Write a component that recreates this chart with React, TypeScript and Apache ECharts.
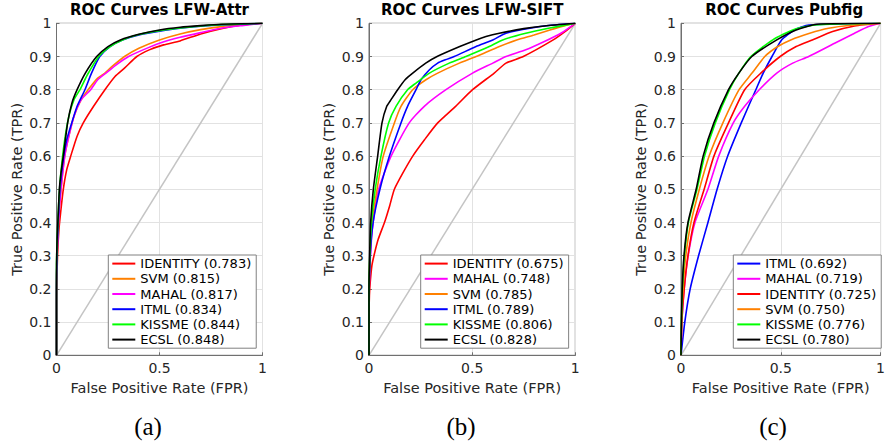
import React, { useEffect, useRef } from "react";
import * as echarts from "echarts";

const FONT = "DejaVu Sans";

const panelTitles = ["ROC Curves LFW-Attr", "ROC Curves LFW-SIFT", "ROC Curves Pubfig"];
const subCaptions = ["(a)", "(b)", "(c)"];
const xTickStep = 0.5;
const yTickStep = 0.1;

const methodColors: Record<string, string> = {
  IDENTITY: "#ff0000",
  SVM: "#ff8000",
  MAHAL: "#ff00ff",
  ITML: "#0000ff",
  KISSME: "#00ff00",
  ECSL: "#000000",
};

// ---------- Panel (a): LFW-Attr ----------
const attrMethods = ["IDENTITY", "SVM", "MAHAL", "ITML", "KISSME", "ECSL"];
const attrAuc = ["0.783", "0.815", "0.817", "0.834", "0.844", "0.848"];
const attrIdentity = [[0,0],[0,0.15],[0.005,0.3],[0.012,0.38],[0.02,0.43],[0.033,0.5],[0.05,0.56],[0.069,0.6],[0.1,0.66],[0.13,0.7],[0.18,0.75],[0.235,0.8],[0.284,0.84],[0.33,0.865],[0.39,0.9],[0.45,0.92],[0.52,0.935],[0.6,0.947],[0.7,0.968],[0.8,0.984],[0.9,0.995],[1,1]];
const attrSvm = [[0,0],[0,0.2],[0.006,0.35],[0.015,0.45],[0.025,0.52],[0.04,0.6],[0.06,0.66],[0.085,0.72],[0.12,0.77],[0.16,0.805],[0.2,0.835],[0.235,0.85],[0.27,0.87],[0.33,0.9],[0.4,0.925],[0.5,0.95],[0.6,0.968],[0.7,0.981],[0.8,0.99],[1,1]];
const attrMahal = [[0,0],[0,0.2],[0.006,0.35],[0.015,0.45],[0.025,0.52],[0.04,0.6],[0.06,0.66],[0.085,0.72],[0.12,0.77],[0.166,0.8],[0.2,0.83],[0.24,0.85],[0.29,0.875],[0.35,0.9],[0.42,0.92],[0.5,0.94],[0.6,0.958],[0.7,0.972],[0.8,0.985],[0.9,0.993],[1,1]];
const attrItml = [[0,0],[0,0.2],[0.005,0.35],[0.012,0.45],[0.02,0.52],[0.035,0.6],[0.05,0.65],[0.074,0.7],[0.1,0.75],[0.138,0.8],[0.17,0.85],[0.21,0.9],[0.26,0.93],[0.32,0.95],[0.4,0.965],[0.5,0.976],[0.6,0.985],[0.7,0.991],[0.8,0.995],[1,1]];
const attrKissme = [[0,0],[0,0.27],[0.004,0.36],[0.01,0.45],[0.017,0.52],[0.026,0.58],[0.04,0.65],[0.06,0.72],[0.085,0.77],[0.114,0.8],[0.15,0.845],[0.205,0.9],[0.26,0.93],[0.32,0.95],[0.4,0.966],[0.5,0.978],[0.6,0.986],[0.7,0.992],[0.8,0.996],[1,1]];
const attrEcsl = [[0,0],[0,0.25],[0.003,0.35],[0.008,0.42],[0.014,0.5],[0.022,0.55],[0.033,0.6],[0.054,0.7],[0.075,0.76],[0.1,0.8],[0.14,0.85],[0.195,0.9],[0.25,0.93],[0.31,0.95],[0.4,0.967],[0.5,0.98],[0.6,0.988],[0.7,0.993],[0.8,0.997],[1,1]];
const attrCurves = [attrIdentity, attrSvm, attrMahal, attrItml, attrKissme, attrEcsl];

// ---------- Panel (b): LFW-SIFT ----------
const siftMethods = ["IDENTITY", "MAHAL", "SVM", "ITML", "KISSME", "ECSL"];
const siftAuc = ["0.675", "0.748", "0.785", "0.789", "0.806", "0.828"];
const siftIdentity = [[0,0],[0,0.12],[0.002,0.18],[0.006,0.22],[0.014,0.27],[0.024,0.3],[0.045,0.35],[0.075,0.4],[0.1,0.45],[0.123,0.5],[0.165,0.55],[0.212,0.6],[0.27,0.65],[0.333,0.7],[0.42,0.75],[0.502,0.8],[0.607,0.85],[0.664,0.88],[0.748,0.9],[0.893,0.95],[0.95,0.975],[1,1]];
const siftMahal = [[0,0],[0,0.15],[0.007,0.3],[0.02,0.4],[0.047,0.5],[0.107,0.6],[0.195,0.7],[0.268,0.75],[0.373,0.8],[0.502,0.85],[0.6,0.88],[0.664,0.9],[0.76,0.92],[0.85,0.945],[0.93,0.97],[1,1]];
const siftSvm = [[0,0],[0,0.15],[0.005,0.3],[0.015,0.4],[0.039,0.5],[0.069,0.6],[0.123,0.7],[0.155,0.75],[0.212,0.8],[0.276,0.83],[0.333,0.85],[0.438,0.88],[0.519,0.9],[0.632,0.93],[0.716,0.95],[0.8,0.965],[0.877,0.98],[0.95,0.993],[1,1]];
const siftItml = [[0,0],[0,0.15],[0.006,0.3],[0.02,0.4],[0.053,0.5],[0.099,0.6],[0.155,0.7],[0.187,0.75],[0.228,0.8],[0.252,0.83],[0.293,0.86],[0.333,0.88],[0.37,0.89],[0.413,0.9],[0.519,0.93],[0.6,0.95],[0.664,0.97],[0.78,0.985],[0.88,0.994],[1,1]];
const siftKissme = [[0,0],[0,0.2],[0.004,0.3],[0.012,0.4],[0.03,0.5],[0.058,0.6],[0.095,0.7],[0.131,0.75],[0.187,0.8],[0.228,0.82],[0.293,0.85],[0.389,0.88],[0.47,0.9],[0.583,0.93],[0.648,0.95],[0.76,0.97],[0.87,0.985],[1,1]];
const siftEcsl = [[0,0],[0,0.2],[0.003,0.3],[0.008,0.4],[0.021,0.5],[0.042,0.6],[0.063,0.7],[0.086,0.75],[0.107,0.77],[0.139,0.8],[0.175,0.83],[0.212,0.85],[0.275,0.88],[0.33,0.9],[0.44,0.93],[0.52,0.95],[0.567,0.96],[0.632,0.97],[0.75,0.984],[0.85,0.992],[1,1]];
const siftCurves = [siftIdentity, siftMahal, siftSvm, siftItml, siftKissme, siftEcsl];

// ---------- Panel (c): Pubfig ----------
const pubMethods = ["ITML", "MAHAL", "IDENTITY", "SVM", "KISSME", "ECSL"];
const pubAuc = ["0.692", "0.719", "0.725", "0.750", "0.776", "0.780"];
const pubItml = [[0,0],[0.019,0.1],[0.046,0.2],[0.088,0.3],[0.135,0.4],[0.181,0.5],[0.234,0.6],[0.302,0.7],[0.375,0.8],[0.412,0.85],[0.456,0.9],[0.504,0.95],[0.569,0.98],[0.64,0.995],[1,1]];
const pubMahal = [[0,0],[0.004,0.1],[0.016,0.2],[0.036,0.3],[0.07,0.4],[0.135,0.5],[0.189,0.6],[0.262,0.7],[0.319,0.75],[0.392,0.8],[0.48,0.85],[0.56,0.88],[0.64,0.9],[0.77,0.94],[0.87,0.97],[0.94,0.99],[1,1]];
const pubIdentity = [[0,0],[0.004,0.1],[0.016,0.2],[0.035,0.3],[0.065,0.4],[0.116,0.5],[0.165,0.6],[0.238,0.7],[0.319,0.8],[0.4,0.85],[0.497,0.9],[0.577,0.93],[0.658,0.95],[0.76,0.975],[0.87,0.992],[1,1]];
const pubSvm = [[0,0],[0.003,0.1],[0.01,0.2],[0.024,0.3],[0.05,0.4],[0.092,0.5],[0.141,0.6],[0.21,0.7],[0.291,0.8],[0.356,0.85],[0.42,0.9],[0.485,0.93],[0.55,0.95],[0.645,0.97],[0.74,0.985],[0.85,0.994],[1,1]];
const pubKissme = [[0,0],[0.002,0.1],[0.007,0.2],[0.017,0.3],[0.037,0.4],[0.08,0.5],[0.118,0.6],[0.172,0.7],[0.243,0.8],[0.29,0.85],[0.35,0.9],[0.46,0.95],[0.56,0.98],[0.67,0.995],[1,1]];
const pubEcsl = [[0,0],[0.002,0.1],[0.006,0.2],[0.015,0.3],[0.035,0.4],[0.076,0.5],[0.111,0.6],[0.165,0.7],[0.238,0.8],[0.29,0.85],[0.355,0.9],[0.48,0.95],[0.577,0.98],[0.68,0.997],[1,1]];
const pubCurves = [pubItml, pubMahal, pubIdentity, pubSvm, pubKissme, pubEcsl];

const chanceLine = [[0, 0], [1, 1]];

const panels = [
  { methods: attrMethods, auc: attrAuc, curves: attrCurves },
  { methods: siftMethods, auc: siftAuc, curves: siftCurves },
  { methods: pubMethods, auc: pubAuc, curves: pubCurves },
];

// layout (pixels)
const gridLefts = [56.5, 369, 681];
const gridWidths = [206, 206.3, 206.3];
const gridTop = 23.3;
const gridHeight = 332;
const legendLefts = [108.3, 420.7, 733.3];
const legendTop = 255;
const subCaptionX = [148, 461, 773];

const fmt = (v: number) => String(Math.round(v * 10) / 10);

export default function App() {
  const ref = useRef<HTMLDivElement>(null);
  useEffect(() => {
    if (!ref.current) return;
    const chart = echarts.init(ref.current, undefined, { renderer: "svg" });

    const axisColor = "#707070";
    const textColor = "#262626";

    const grid = panels.map((_, i) => ({
      left: gridLefts[i],
      top: gridTop,
      width: gridWidths[i],
      height: gridHeight,
      show: true,
      borderColor: axisColor,
      borderWidth: 1,
      backgroundColor: "transparent",
    }));

    const xAxis = panels.map((_, i) => ({
      type: "value",
      gridIndex: i,
      min: 0,
      max: 1,
      interval: xTickStep,
      name: "False Positive Rate (FPR)",
      nameLocation: "middle",
      nameGap: 25,
      nameTextStyle: { fontFamily: FONT, fontSize: 14.5, color: textColor },
      axisLine: { show: true, lineStyle: { color: axisColor, width: 1 } },
      axisTick: { show: true, inside: true, length: 3, lineStyle: { color: axisColor } },
      axisLabel: { fontFamily: FONT, fontSize: 14, color: textColor, margin: 6, formatter: fmt },
      splitLine: { show: true, lineStyle: { color: "#e2e2e2", width: 1 } },
    }));

    const yAxis = panels.map((_, i) => ({
      type: "value",
      gridIndex: i,
      min: 0,
      max: 1,
      interval: yTickStep,
      name: "True Positive Rate (TPR)",
      nameLocation: "middle",
      nameGap: 32.5,
      nameTextStyle: { fontFamily: FONT, fontSize: 14.5, color: textColor },
      axisLine: { show: true, lineStyle: { color: axisColor, width: 1 } },
      axisTick: { show: true, inside: true, length: 3, lineStyle: { color: axisColor } },
      axisLabel: { fontFamily: FONT, fontSize: 14, color: textColor, margin: 5, formatter: fmt },
      splitLine: { show: true, lineStyle: { color: "#e2e2e2", width: 1 } },
    }));

    const series: any[] = [];
    const legend: any[] = [];
    panels.forEach((p, i) => {
      series.push({
        type: "line",
        name: "chance-" + i,
        xAxisIndex: i,
        yAxisIndex: i,
        data: chanceLine,
        showSymbol: false,
        silent: true,
        lineStyle: { color: "#c4c4c4", width: 1.5 },
        itemStyle: { color: "#c4c4c4" },
        z: 1,
      });
      const names: string[] = [];
      p.methods.forEach((m, k) => {
        const name = `${m} (${p.auc[k]})`;
        names.push(name);
        series.push({
          type: "line",
          name,
          xAxisIndex: i,
          yAxisIndex: i,
          data: p.curves[k],
          showSymbol: false,
          symbol: "none",
          smooth: 0.2,
          lineStyle: { color: methodColors[m], width: 1.6 },
          itemStyle: { color: methodColors[m] },
          z: 2 + k,
        });
      });
      legend.push({
        data: names,
        orient: "vertical",
        left: legendLefts[i],
        top: legendTop,
        icon: "rect",
        itemWidth: 23,
        itemHeight: 2,
        itemGap: 0,
        selectedMode: false,
        backgroundColor: "#ffffff",
        borderColor: "#808080",
        borderWidth: 1,
        padding: [1, 5, 1, 4],
        textStyle: { fontFamily: FONT, fontSize: 13, color: "#000", lineHeight: 15.2 },
        z: 10,
      });
    });

    const graphic: any[] = [];
    panels.forEach((_, i) => {
      graphic.push({
        type: "text",
        x: gridLefts[i] + gridWidths[i] / 2,
        y: 10,
        style: {
          text: panelTitles[i],
          fontFamily: FONT,
          fontSize: 15,
          fontWeight: "bold",
          fill: "#000",
          align: "center",
          verticalAlign: "middle",
        },
      });
      graphic.push({
        type: "text",
        x: subCaptionX[i],
        y: 426.5,
        style: {
          text: subCaptions[i],
          fontFamily: "Liberation Serif",
          fontSize: 25,
          fill: "#000",
          align: "center",
          verticalAlign: "middle",
        },
      });
    });

    chart.setOption({
      animation: false,
      backgroundColor: "#ffffff",
      grid,
      xAxis,
      yAxis,
      legend,
      series,
      graphic,
    } as any);

    return () => chart.dispose();
  }, []);

  return (
    <div
      ref={ref}
      style={{ position: "fixed", left: 0, top: 0, width: 888, height: 444 }}
    />
  );
}
